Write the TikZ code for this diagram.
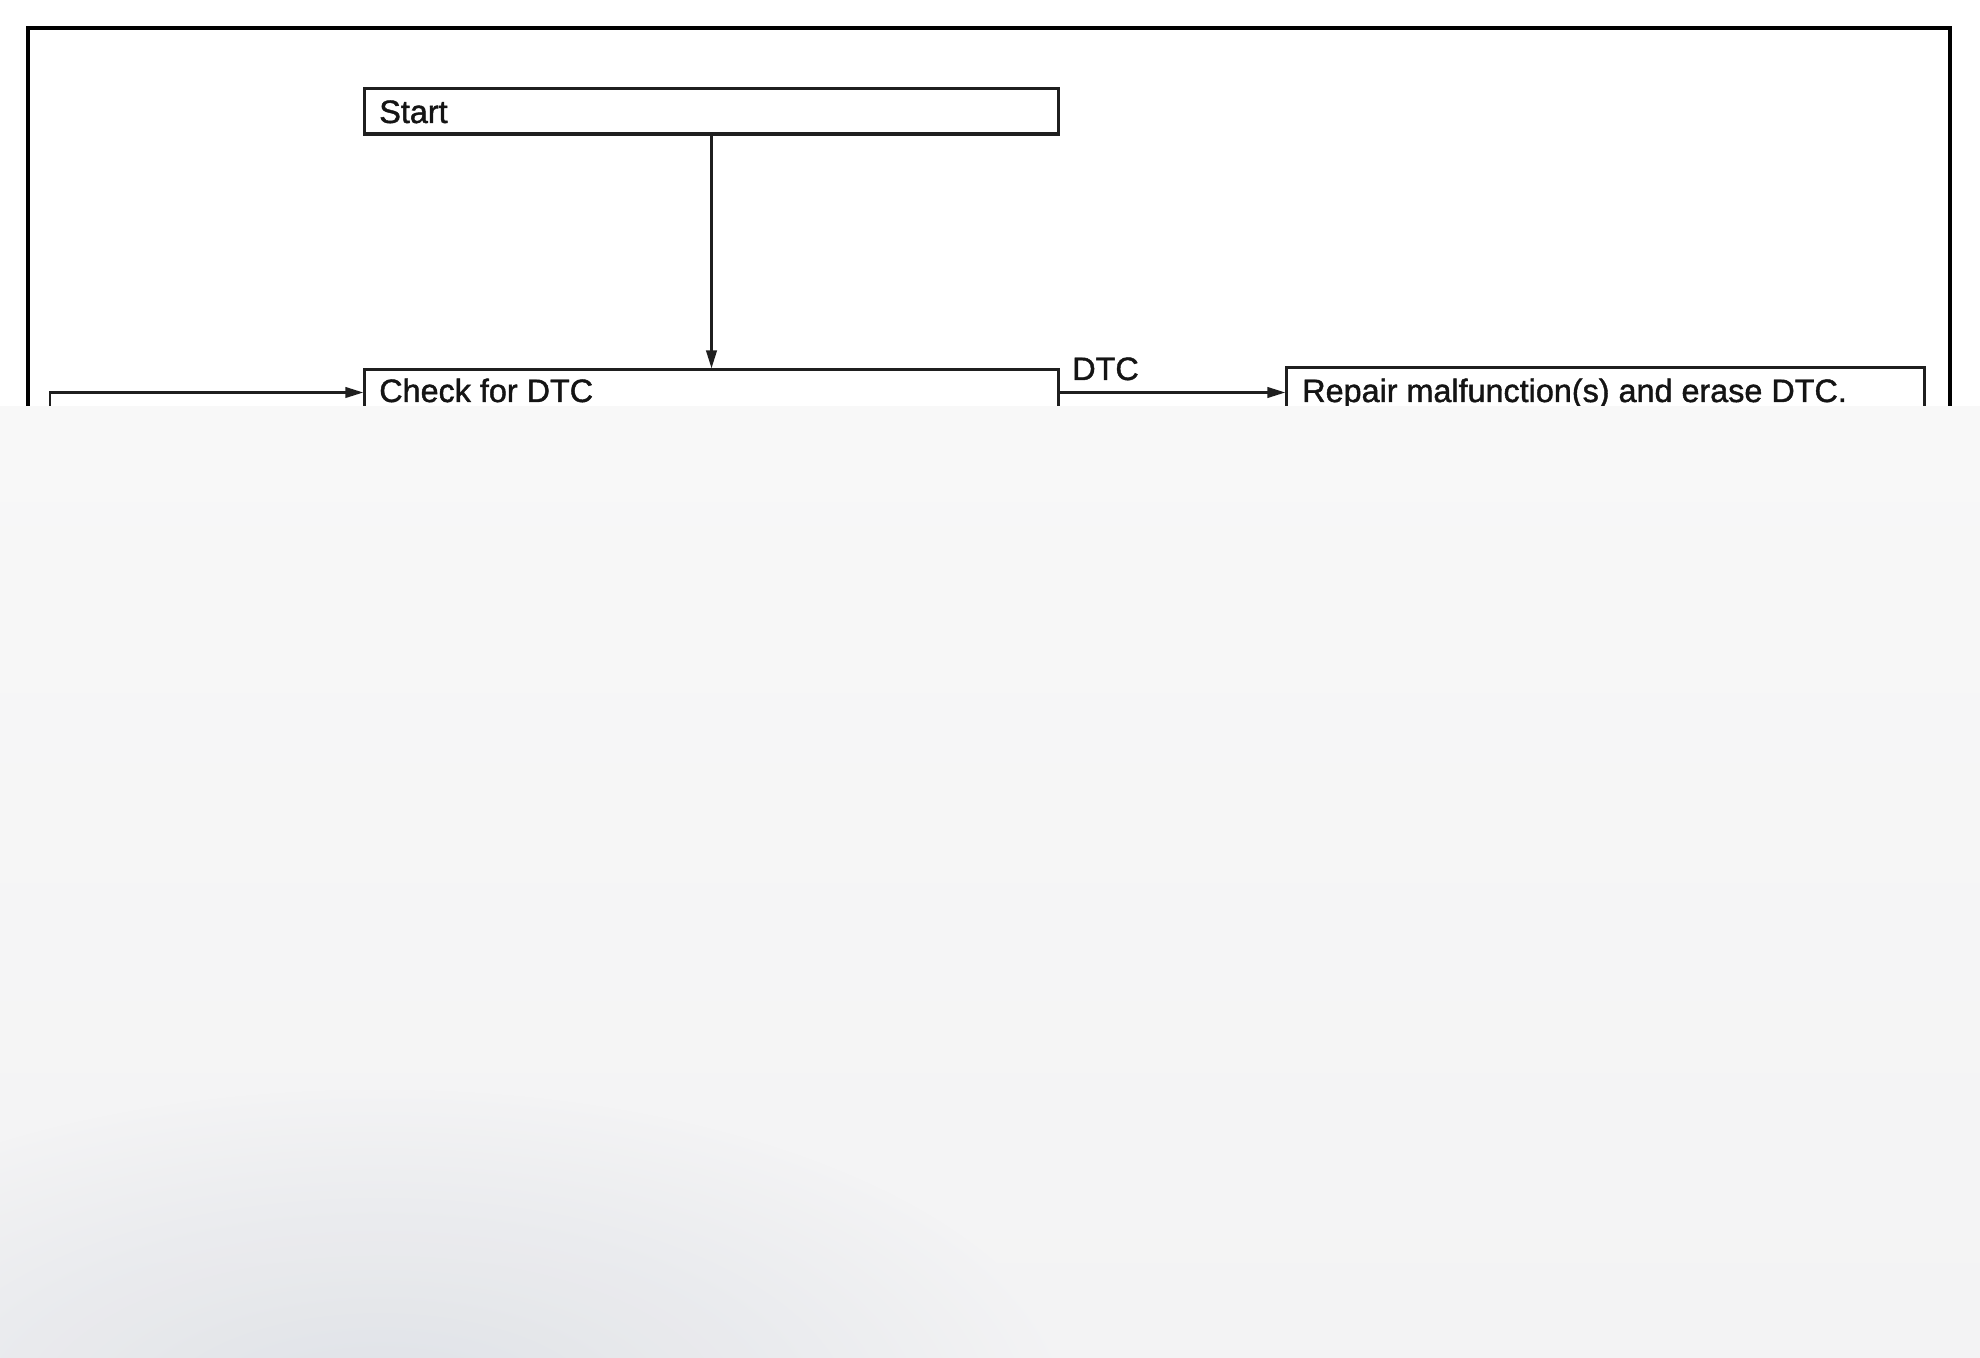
\documentclass[tikz,border=0pt]{standalone}
\usepackage{fontspec}
\setmainfont{Liberation Sans}[FakeBold=1.3]
\usetikzlibrary{arrows.meta}
\definecolor{coverbase}{HTML}{F3F3F4}
\definecolor{covertop}{HTML}{F8F8F8}
\definecolor{coverblue}{HTML}{DCDFE5}
\begin{document}
\begin{tikzpicture}[x=0.025cm,y=-0.025cm,
  every node/.style={font=\fontsize{23pt}{27pt}\selectfont},
  flowbox/.style={draw=black!88, line width=0.075cm, rectangle, inner sep=0pt,
    minimum width=17.325cm, minimum height=1.125cm},
  widebox/.style={flowbox, minimum width=15.925cm},
  boxtext/.style={inner sep=0pt, anchor=base west, text=black!92},
  conn/.style={draw=black!88, line width=0.065cm, -{Triangle[length=0.45cm,width=0.26cm]}}
]
\useasboundingbox (0,0) rectangle (1980,1358);
\fill[white] (0,0) rectangle (1980,1358);
% outer frame
\draw[line width=0.12cm, black] (28,28) rectangle (1950,1330);
% boxes
\node[flowbox] (start) at (711.5,111.5) {};
\node[boxtext] (starttext) at (379,123) {Start};
\node[flowbox] (check) at (711.5,392.5) {};
\node[boxtext] (checktext) at (379,402) {Check for DTC};
\node[widebox] (repair) at (1605.5,390.5) {};
\node[boxtext] (repairtext) at (1302,402) {Repair malfunction(s) and erase DTC.};
\coordinate (loop) at (50,520);
% connectors
\draw[conn] (start.south) -- (check.north);
\draw[conn] (loop) |- (check.west);
\draw[conn] (check.east) -- (repair.west |- check.east);
\node[boxtext] (dtc) at (1072,380) {DTC};
% grey cover over the lower part of the picture
\begin{scope}
\clip (0,407) rectangle (1980,1358);
\shade[top color=covertop, bottom color=coverbase] (0,407) rectangle (1980,1358);
\shade[inner color=coverblue, outer color=coverbase, opacity=0.9] (380,1420) ellipse (700 and 330);
\end{scope}
\end{tikzpicture}
\end{document}
